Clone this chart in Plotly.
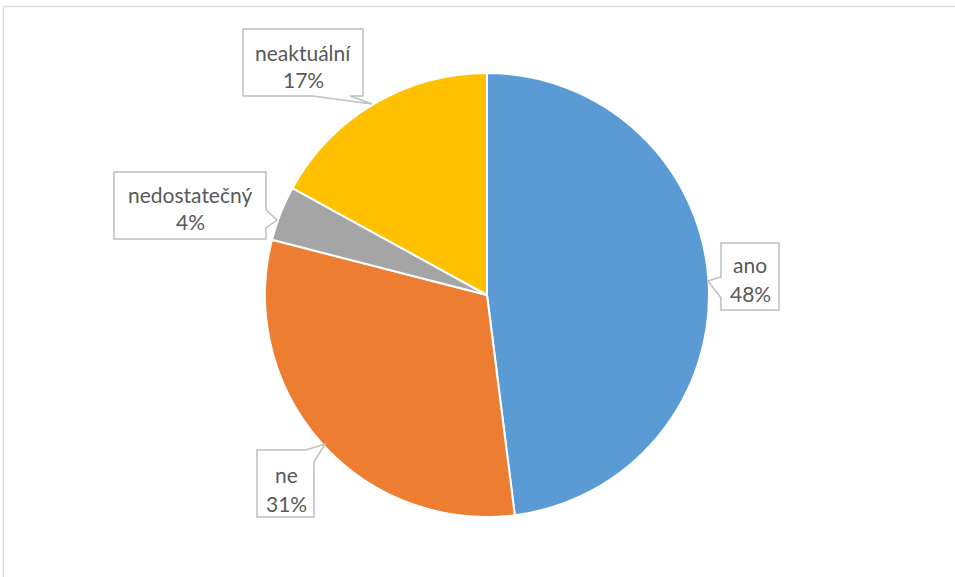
import plotly.graph_objects as go

# Survey answers and their shares (%)
categories = ["ano", "ne", "nedostatečný", "neaktuální"]
values = [48, 31, 4, 17]
colors = ["#5B9BD5", "#ED7D31", "#A5A5A5", "#FFC000"]

W, H = 955, 577


def px(x, y):
    """Pixel position -> paper coordinates."""
    return x / W, 1 - y / H


def path(points):
    pts = [px(x, y) for x, y in points]
    return "M " + " L ".join(f"{a:.5f},{b:.5f}" for a, b in pts) + " Z"


# Pie placed by its pixel centre and radius
cx, cy, r = 487, 295, 222
x0, y0 = px(cx - r, cy + r)
x1, y1 = px(cx + r, cy - r)

fig = go.Figure(
    go.Pie(
        labels=categories,
        values=values,
        sort=False,
        direction="clockwise",
        rotation=0,
        marker=dict(colors=colors, line=dict(color="white", width=2)),
        textinfo="none",
        hoverinfo="label+percent",
        showlegend=False,
        domain=dict(x=[x0, x1], y=[y0, y1]),
    )
)

# Callout boxes (outline with a small pointer towards the slice)
callouts = {
    "ano": [(721, 243), (779, 243), (779, 310), (721, 310), (721, 298), (708, 281), (721, 277)],
    "ne": [(257, 450), (306, 450), (325, 444), (314, 462), (314, 517), (257, 517)],
    "nedostatečný": [(114, 172), (266, 172), (266, 210), (277, 220), (266, 228), (266, 239), (114, 239)],
    "neaktuální": [(243, 29), (363, 29), (363, 96), (350, 96), (372, 104), (313, 96), (243, 96)],
}
# Text centres for the two lines of each label
text_pos = {
    "ano": (750, 264, 293),
    "ne": (286, 474, 503),
    "nedostatečný": (190, 194, 222),
    "neaktuální": (303, 52, 80),
}

shapes = []
annotations = []
total = sum(values)
for name, val in zip(categories, values):
    shapes.append(dict(
        type="path", xref="paper", yref="paper", path=path(callouts[name]),
        line=dict(color="#BFBFBF", width=1.5), fillcolor="white", layer="above",
    ))
    tx, ty1, ty2 = text_pos[name]
    pct = round(val / total * 100)
    for txt, ty in ((name, ty1), (f"{pct}%", ty2)):
        ax, ay = px(tx, ty)
        annotations.append(dict(
            x=ax, y=ay, xref="paper", yref="paper", text=txt, showarrow=False,
            xanchor="center", yanchor="middle",
            font=dict(family="Lato, sans-serif", size=21, color="#595959"),
        ))

# Chart area frame
lx, ty = px(3.5, 6.5)
shapes.append(dict(type="line", xref="paper", yref="paper", x0=lx, x1=lx, y0=0, y1=ty,
                   line=dict(color="#D9D9D9", width=1.5)))
shapes.append(dict(type="line", xref="paper", yref="paper", x0=lx, x1=1, y0=ty, y1=ty,
                   line=dict(color="#D9D9D9", width=1.5)))

fig.update_layout(
    width=W, height=H,
    margin=dict(l=0, r=0, t=0, b=0),
    paper_bgcolor="white",
    plot_bgcolor="white",
    shapes=shapes,
    annotations=annotations,
)

fig.write_html("out.html")
